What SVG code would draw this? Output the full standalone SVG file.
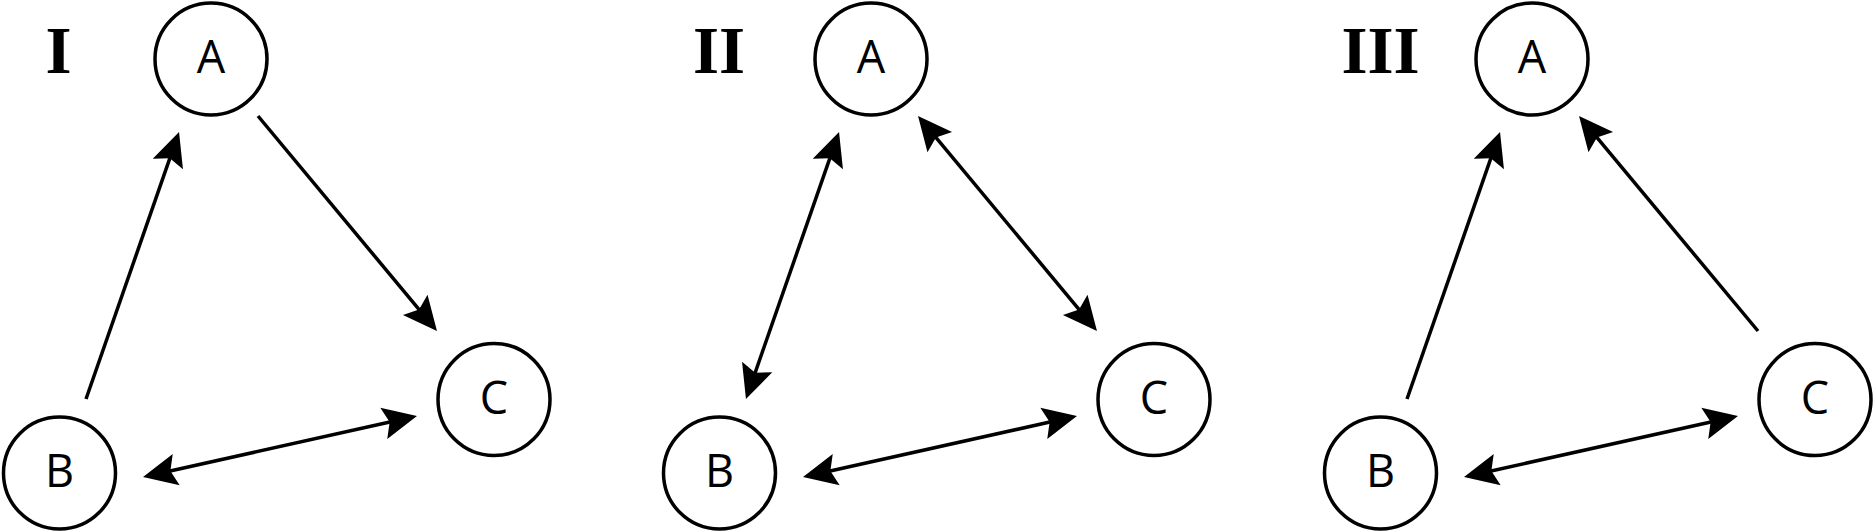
<svg xmlns="http://www.w3.org/2000/svg" width="1873" height="532" viewBox="0 0 1873 532">
<style>
.node circle{fill:#fff;stroke:#000;stroke-width:3.5}
.node text{font-family:"Open Sans","Liberation Sans",sans-serif;font-size:45px;text-anchor:middle;fill:#000}
.title{font-family:"Liberation Serif","Times New Roman",serif;font-weight:bold;font-size:67px;text-anchor:middle;fill:#000}
.edge{stroke:#000;stroke-width:3.5;fill:none}
.one{marker-end:url(#ah)}
.two{marker-start:url(#ah);marker-end:url(#ah)}
</style>
<defs>
<marker id="ah" markerUnits="userSpaceOnUse" viewBox="-15 -18 40 36" markerWidth="40" markerHeight="36" refX="0" refY="0" orient="auto-start-reverse" overflow="visible">
<path d="M22,0 L-12,-16 L-6,0 L-12,16 Z" fill="#000"/>
</marker>
</defs>
<rect width="1873" height="532" fill="#fff"/>
<g id="titles">
<text class="title" x="58.5" y="73">I</text>
<text class="title" x="719" y="73">II</text>
<text class="title" x="1380.5" y="73">III</text>
</g>
<g id="connectors">
<line class="edge one" x1="86" y1="399" x2="171.8" y2="152.7"/>
<line class="edge one" x1="258" y1="116" x2="422.9" y2="314.1"/>
<line class="edge two" x1="164.5" y1="472.2" x2="395.5" y2="420.8"/>
<line class="edge two" x1="753.2" y1="378.3" x2="831.8" y2="152.7"/>
<line class="edge two" x1="932.1" y1="132.9" x2="1082.9" y2="314.1"/>
<line class="edge two" x1="824.5" y1="472.2" x2="1055.5" y2="420.8"/>
<line class="edge one" x1="1407" y1="399" x2="1492.8" y2="152.7"/>
<line class="edge one" x1="1758" y1="331" x2="1593.1" y2="132.9"/>
<line class="edge two" x1="1485.5" y1="472.2" x2="1716.5" y2="420.8"/>
</g>
<g id="I-A" class="node"><circle cx="211" cy="59" r="56"/><text x="211" y="73">A</text></g>
<g id="I-B" class="node"><circle cx="59.5" cy="473" r="56"/><text x="59.5" y="487">B</text></g>
<g id="I-C" class="node"><circle cx="494" cy="399.5" r="56"/><text x="494" y="413.5">C</text></g>
<g id="II-A" class="node"><circle cx="871" cy="59" r="56"/><text x="871" y="73">A</text></g>
<g id="II-B" class="node"><circle cx="719.5" cy="473" r="56"/><text x="719.5" y="487">B</text></g>
<g id="II-C" class="node"><circle cx="1154" cy="399.5" r="56"/><text x="1154" y="413.5">C</text></g>
<g id="III-A" class="node"><circle cx="1532" cy="59" r="56"/><text x="1532" y="73">A</text></g>
<g id="III-B" class="node"><circle cx="1380.5" cy="473" r="56"/><text x="1380.5" y="487">B</text></g>
<g id="III-C" class="node"><circle cx="1815" cy="399.5" r="56"/><text x="1815" y="413.5">C</text></g>
</svg>
